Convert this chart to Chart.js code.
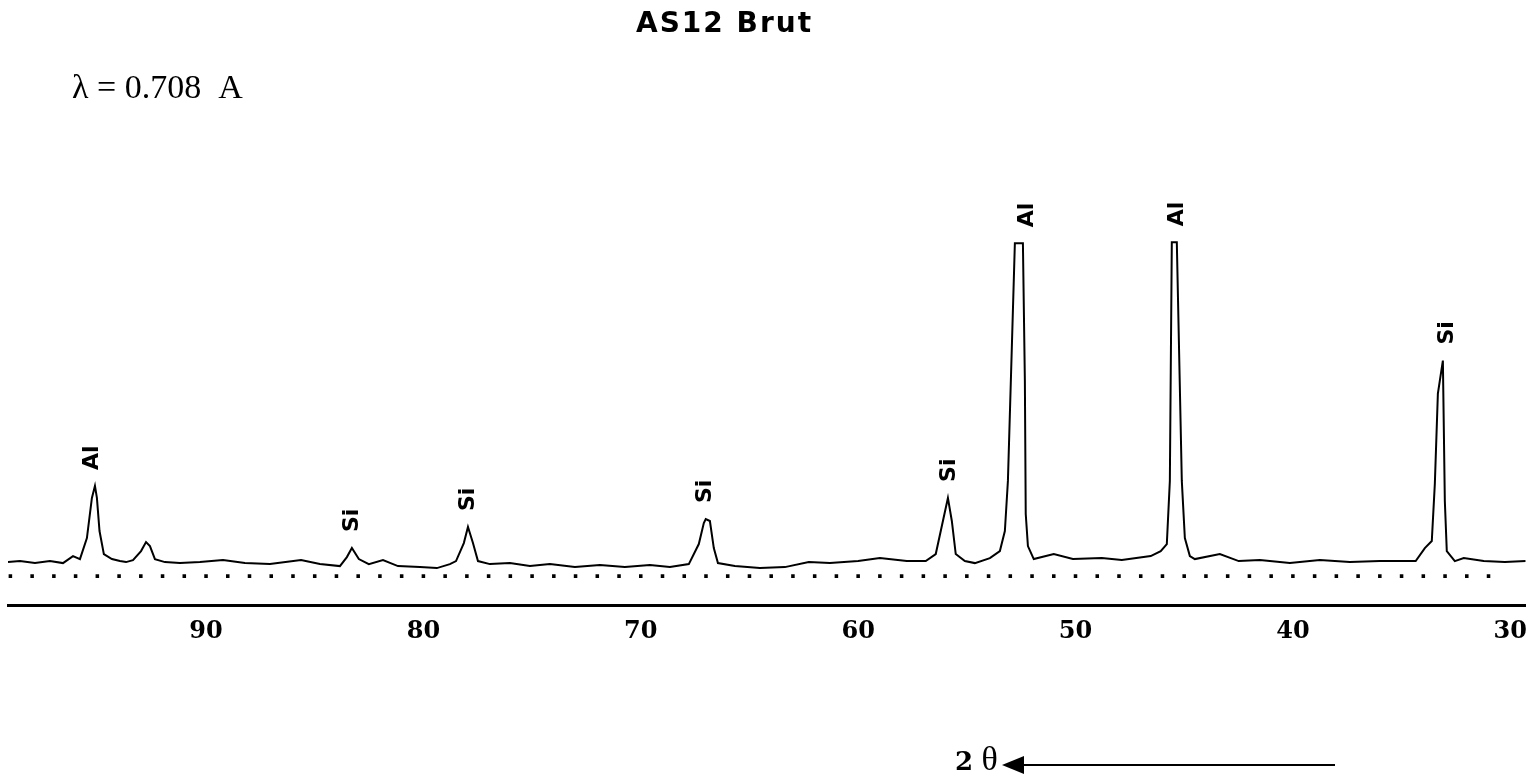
<!DOCTYPE html>
<html>
<head>
<meta charset="utf-8">
<title>AS12 Brut</title>
<script src="https://cdn.jsdelivr.net/npm/chart.js@4.4.1/dist/chart.umd.min.js"></script>
<style>
    body { margin: 0; background: #fff; }
    #wrap { position: relative; width: 1526px; height: 776px; overflow: hidden; background: #fff; }
    #chart { position: absolute; left: 0; top: 0; }
    .title { position: absolute; left: 636px; top: 9px; font: bold 28px "DejaVu Sans"; letter-spacing: 2px; line-height: 1; white-space: nowrap; }
    .lambda { position: absolute; left: 72px; top: 70px; font: 34px "Liberation Serif"; line-height: 1; white-space: pre; }
    .theta { position: absolute; left: 955px; top: 742px; font: 34px "Liberation Serif"; line-height: 1; white-space: pre; }
    .theta b { font: bold 26px "DejaVu Serif"; }
    .arrowLine { position: absolute; left: 1018px; top: 764px; width: 317px; height: 2px; background: #000; }
    .arrowHead { position: absolute; left: 1002px; top: 756px; width: 0; height: 0;
        border-top: 9px solid transparent; border-bottom: 9px solid transparent; border-right: 22px solid #000; }
</style>
</head>
<body>
<div id="wrap">
    <canvas id="chart" width="1531" height="776"></canvas>
    <div class="title">AS12 Brut</div>
    <div class="lambda">λ = 0.708  A</div>
    <div class="theta"><b>2</b> θ</div>
    <div class="arrowHead"></div>
    <div class="arrowLine"></div>
</div>

<script>

// =========================
// DATA
// =========================

const twoTheta = [
    99.11, 98.56, 97.87, 97.18, 96.58, 96.12, 95.80, 95.48, 95.25, 95.11,
    95.02, 94.90, 94.70, 94.33, 93.96, 93.68, 93.36, 92.99, 92.76, 92.58,
    92.35, 91.89, 91.20, 90.28, 89.22, 88.21, 87.06, 85.63, 84.76, 83.84,
    83.52, 83.29, 82.97, 82.51, 81.86, 81.17, 80.16, 79.38, 78.78, 78.50,
    78.14, 77.95, 77.72, 77.49, 76.94, 76.02, 75.10, 74.18, 73.03, 71.88,
    70.73, 69.58, 68.66, 67.79, 67.33, 67.10, 67.01, 66.82, 66.64, 66.45,
    65.67, 64.52, 63.37, 62.27, 61.30, 60.00, 59.00, 57.76, 56.89, 56.43,
    56.10, 55.87, 55.69, 55.51, 55.09, 54.63, 53.94, 53.48, 53.25, 53.11,
    52.93, 52.79, 52.42, 52.33, 52.29, 52.19, 51.92, 51.00, 50.12, 48.79,
    47.87, 46.54, 46.08, 45.80, 45.66, 45.57, 45.34, 45.11, 44.97, 44.74,
    44.51, 43.36, 42.49, 41.52, 40.14, 38.76, 37.38, 36.00, 34.35, 33.93,
    33.61, 33.47, 33.33, 33.10, 33.01, 32.92, 32.55, 32.14, 31.22, 30.25, 29.29
];

const intensity = [
    86, 88, 84, 88, 84, 98, 92, 134, 214, 238,
    214, 148, 102, 92, 88, 86, 90, 108, 126, 118,
    92, 86, 84, 86, 90, 84, 82, 90, 82, 78,
    96, 114, 92, 82, 90, 78, 76, 74, 82, 88,
    124, 156, 124, 88, 82, 84, 78, 82, 76, 80,
    76, 80, 76, 82, 122, 164, 172, 168, 114, 84,
    78, 74, 76, 86, 84, 88, 94, 88, 88, 102,
    168, 214, 168, 102, 88, 84, 94, 108, 148, 248,
    514, 722, 722, 448, 182, 118, 92, 102, 92, 94,
    90, 98, 108, 122, 248, 724, 724, 248, 134, 98,
    92, 102, 88, 90, 84, 90, 86, 88, 88, 114,
    128, 242, 422, 488, 208, 108, 88, 94, 88, 86, 88
];

// dotted reference row under the trace (one dot per degree)
const dotTheta = [
    99, 98, 97, 96, 95, 94, 93, 92, 91, 90, 89, 88, 87, 86, 85, 84, 83, 82, 81, 80,
    79, 78, 77, 76, 75, 74, 73, 72, 71, 70, 69, 68, 67, 66, 65, 64, 63, 62, 61, 60,
    59, 58, 57, 56, 55, 54, 53, 52, 51, 50, 49, 48, 47, 46, 45, 44, 43, 42, 41, 40,
    39, 38, 37, 36, 35, 34, 33, 32, 31
];
const dotLevel = 58;

const peakPos = [95.25, 83.29, 77.95, 67.01, 55.83, 52.24, 45.34, 32.92];
const peakLabel = ["Al", "Si", "Si", "Si", "Si", "Al", "Al", "Si"];

const xTicks = [90, 80, 70, 60, 50, 40, 30];

// =========================
// PEAK LABELS
// =========================

const peakLabels = {
    id: "peakLabels",
    afterDatasetsDraw(chart) {

        const ctx = chart.ctx;
        const xs = chart.scales.x;
        const ys = chart.scales.y;

        ctx.save();
        ctx.font = "bold 22px 'DejaVu Sans'";
        ctx.fillStyle = "#000";
        ctx.textAlign = "left";
        ctx.textBaseline = "middle";

        peakPos.forEach((pos, i) => {

            let top = 0;
            twoTheta.forEach((t, j) => {
                if (Math.abs(t - pos) < 0.35 && intensity[j] > top) top = intensity[j];
            });

            ctx.save();
            ctx.translate(xs.getPixelForValue(pos), ys.getPixelForValue(top) - 16);
            ctx.rotate(-Math.PI / 2);
            ctx.fillText(peakLabel[i], 0, 0);
            ctx.restore();

        });

        ctx.restore();
    }
};

// =========================
// CHART
// =========================

new Chart(document.getElementById("chart"), {
    type: "line",
    data: {
        datasets: [
            {
                data: twoTheta.map((t, i) => ({ x: t, y: intensity[i] })),
                borderColor: "#000",
                borderWidth: 2,
                pointRadius: 0,
                tension: 0,
                fill: false
            },
            {
                data: dotTheta.map(t => ({ x: t, y: dotLevel })),
                showLine: false,
                pointStyle: "rect",
                pointRadius: 2.5,
                backgroundColor: "#000",
                borderColor: "#000",
                borderWidth: 0
            }
        ]
    },
    options: {
        responsive: false,
        animation: false,
        devicePixelRatio: 1,
        layout: { padding: { left: 8, right: 0, top: 104, bottom: 126 } },
        plugins: {
            legend: { display: false },
            tooltip: { enabled: false }
        },
        scales: {
            x: {
                type: "linear",
                reverse: true,
                min: 29.29,
                max: 99.11,
                grid: { display: false },
                border: { display: true, color: "#000", width: 3 },
                afterBuildTicks: (scale) => {
                    scale.ticks = xTicks.map(v => ({ value: v }));
                },
                ticks: {
                    color: "#000",
                    padding: 4,
                    maxRotation: 0,
                    autoSkip: false,
                    font: { family: "DejaVu Serif", size: 24, weight: "bold" }
                }
            },
            y: {
                display: false,
                min: 0,
                max: 1000
            }
        }
    },
    plugins: [peakLabels]
});

</script>
</body>
</html>
